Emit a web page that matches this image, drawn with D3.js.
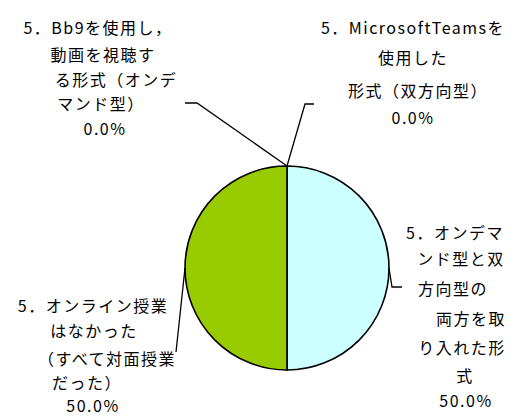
<!DOCTYPE html>
<html>
<head>
<meta charset="utf-8">
<script src="https://cdn.jsdelivr.net/npm/d3@7"></script>
<style>
  body { margin: 0; background: #fff; }
  svg { display: block; }
  text { font-family: "Noto Sans CJK JP", "Noto Sans", sans-serif; font-size: 16px; fill: #000; letter-spacing: 1.5px; }
</style>
</head>
<body>
<div id="pieChart"></div>
<script>
// answer categories, one label line per entry
const categories = [
  ["5．Bb9を使用し，", "動画を視聴す", "る形式（オンデ", "マンド型）"],
  ["5．MicrosoftTeamsを", "使用した", "形式（双方向型）"],
  ["5．オンデマ", "ンド型と双", "方向型の", "両方を取", "り入れた形", "式"],
  ["5．オンライン授業", "はなかった", "（すべて対面授業", "だった）"]
];
const values = [0, 0, 50, 50];
const colors = ["#ffffff", "#ffffff", "#ccffff", "#99cc00"];

const width = 515;
const height = 417;
const radius = 102;
const center = {x: 287, y: 268};

// where each label block sits (line x centers, line y centers)
const labelLayout = [
  {xs: [98, 103, 116, 101, 105], ys: [27, 54, 79, 103, 128], leader: [[197, 103], [185, 103]]},
  {xs: [413, 413, 418, 413], ys: [27, 57, 90, 117], leader: [[305, 104], [314, 104]]},
  {xs: [455, 461, 453, 471, 462, 465, 466], ys: [232, 258, 288, 318, 347, 375, 400], leader: [[392, 287], [402, 287]]},
  {xs: [93, 94, 107, 87, 93], ys: [305, 330, 358, 382, 405], leader: [[176, 352]]}
];

const svg = d3.select("#pieChart")
  .append("svg")
  .attr("width", width)
  .attr("height", height)
  .attr("viewBox", `0 0 ${width} ${height}`);

const total = d3.sum(values);
const pie = d3.pie().sort(null).value(d => d);
const arcs = pie(values);
const arc = d3.arc().innerRadius(0).outerRadius(radius);
const edge = d3.arc().innerRadius(radius).outerRadius(radius);

const g = svg.append("g")
  .attr("transform", `translate(${center.x},${center.y})`);

g.selectAll(".slice")
  .data(arcs)
  .enter()
  .append("path")
  .attr("class", "slice")
  .attr("d", arc)
  .style("fill", (d, i) => colors[i])
  .style("stroke", "#000")
  .style("stroke-width", 1.6);

// leader lines from slice edge to label
const line = d3.line();
svg.selectAll(".leader")
  .data(arcs)
  .enter()
  .append("path")
  .attr("class", "leader")
  .attr("d", (d, i) => {
    const p = edge.centroid(d);
    return line([[p[0] + center.x, p[1] + center.y]].concat(labelLayout[i].leader));
  })
  .style("fill", "none")
  .style("stroke", "#000")
  .style("stroke-width", 1.3);

const fmt = v => (v / total * 100).toFixed(1) + "%";

categories.forEach((lines, i) => {
  const lay = labelLayout[i];
  const all = lines.concat([fmt(values[i])]);
  svg.selectAll(`.lbl-${i}`)
    .data(all)
    .enter()
    .append("text")
    .attr("class", `lbl-${i}`)
    .attr("x", (t, j) => lay.xs[j])
    .attr("y", (t, j) => lay.ys[j])
    .attr("text-anchor", "middle")
    .attr("dominant-baseline", "central")
    .text(t => t);
});
</script>
</body>
</html>
